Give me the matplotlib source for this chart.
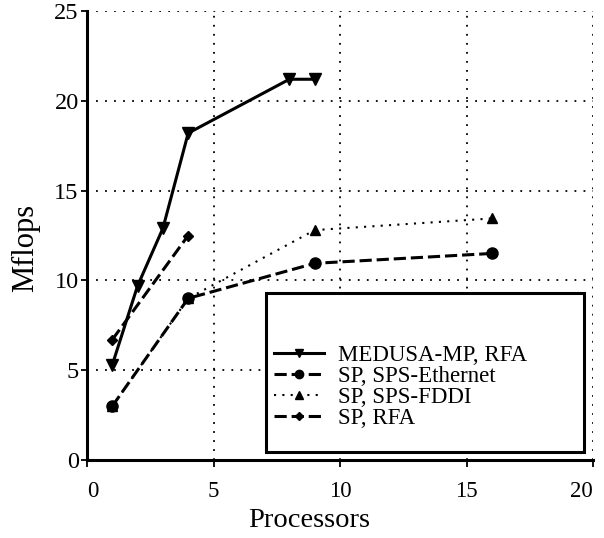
import matplotlib
matplotlib.use("Agg")
import matplotlib.pyplot as plt
from matplotlib.patches import Rectangle

plt.rcParams['font.family'] = ['Liberation Serif', 'DejaVu Serif']

medusa_x = [1, 2, 3, 4, 8, 9]
medusa_y = [5.3, 9.7, 12.9, 18.2, 21.2, 21.2]
eth_x = [1, 4, 9, 16]
eth_y = [3.0, 9.0, 10.95, 11.5]
fddi_x = [1, 4, 9, 16]
fddi_y = [3.0, 9.0, 12.8, 13.45]
sprfa_x = [1, 4]
sprfa_y = [6.7, 12.5]

labels = ["MEDUSA-MP, RFA", "SP, SPS-Ethernet", "SP, SPS-FDDI", "SP, RFA"]
xticks = [0, 5, 10, 15, 20]
yticks = [0, 5, 10, 15, 20, 25]

fig = plt.figure(figsize=(6.04, 5.38), dpi=100)
ax = fig.add_axes([87/604, 1-460/538, 506/604, 449/538])

h1, = ax.plot(medusa_x, medusa_y, '-', color='black', lw=2.2, marker='v', ms=8,
              label=labels[0], zorder=3)
h2, = ax.plot(eth_x, eth_y, color='black', lw=2.2, linestyle=(0, (4, 1.6)), marker='o', ms=8,
              label=labels[1], zorder=3)
h3, = ax.plot(fddi_x, fddi_y, color='black', lw=1.5, linestyle=(0, (1, 3)), marker='^', ms=7.5,
              label=labels[2], zorder=3)
h4, = ax.plot(sprfa_x, sprfa_y, color='black', lw=2.2, linestyle=(0, (4, 1.6)), marker='D', ms=5.5,
              label=labels[3], zorder=3)

ax.set_xlim(0, 20)
ax.set_ylim(0, 25)
ax.set_xticks(xticks)
ax.set_yticks(yticks)
ax.set_xticklabels([str(t) for t in xticks], fontsize=16.5)
ax.set_yticklabels([str(t) for t in yticks], fontsize=17.5)
xl = ax.get_xticklabels()
xl[0].set_ha('left')
xl[-1].set_ha('right')
ax.grid(True, color='black', linestyle=(0, (1, 4)), linewidth=1.3)
ax.set_axisbelow(True)

for s in ['top', 'right']:
    ax.spines[s].set_visible(False)
for s in ['left', 'bottom']:
    ax.spines[s].set_linewidth(2.2)
ax.tick_params(axis='x', direction='out', length=5, width=1.3, pad=10)
ax.tick_params(axis='y', direction='out', length=4, width=1.3, pad=2)

ax.set_xlabel('Processors', fontsize=20.5)
ax.xaxis.label.set_va('center')
ax.xaxis.set_label_coords(0.44, -0.135)
ax.set_ylabel('Mflops', fontsize=22)
ax.yaxis.label.set_va('center')
ax.yaxis.set_label_coords(-0.121, 0.472)

box = Rectangle((7.07, 0.46), 12.57, 8.82, facecolor='white', edgecolor='black',
                lw=2.2, zorder=4)
ax.add_patch(box)
leg = ax.legend(handles=[h1, h2, h3, h4], loc='lower left',
                bbox_to_anchor=(6.85, 0.95), bbox_transform=ax.transData,
                frameon=False, fontsize=16.5, handlelength=2.2, handletextpad=0.6,
                labelspacing=0.0, borderpad=0.1, markerscale=0.75)
leg.set_zorder(5)

fig.savefig('out.png', dpi=100)
